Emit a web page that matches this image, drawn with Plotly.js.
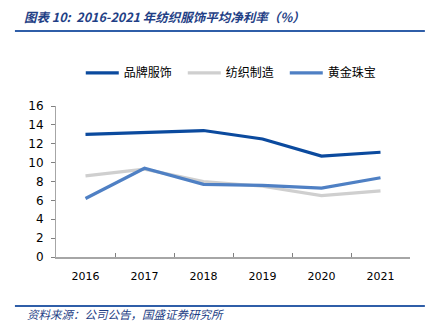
<!DOCTYPE html>
<html><head><meta charset="utf-8">
<script src="https://cdn.plot.ly/plotly-3.0.1.min.js"></script>
<style>html,body{margin:0;padding:0;background:#fff}#c{width:433px;height:334px}</style>
</head><body><div id="c"></div>
<script>
const years = ['2016','2017','2018','2019','2020','2021'];
const brand = [13.0, 13.2, 13.4, 12.5, 10.7, 11.1];
const textile = [8.6, 9.3, 8.0, 7.5, 6.5, 7.0];
const jewelry = [6.2, 9.4, 7.7, 7.6, 7.3, 8.4];
const names = ['品牌服饰','纺织制造','黄金珠宝'];
const colors = ['#0B4A9E','#CFCFCF','#4F80C4'];
const series = [brand, textile, jewelry];

const traces = series.map((s,i)=>({
  x: years, y: s, name: names[i], type:'scatter', mode:'lines',
  line:{color:colors[i], width:3.2}
}));

const cjk = '"Noto Sans CJK SC", "DejaVu Sans", sans-serif';
const layout = {
  width:433, height:334,
  margin:{l:56, r:23, t:106, b:77},
  paper_bgcolor:'#fff', plot_bgcolor:'#fff',
  showlegend:true,
  legend:{orientation:'h', x:0.07, xanchor:'left', y:1.22, yanchor:'middle',
    font:{family:cjk, size:12, color:'#000'}, traceorder:'normal', itemwidth:33,
    entrywidth:54, entrywidthmode:'pixels'},
  xaxis:{type:'category', range:[-0.5,5.5], showgrid:false, showline:true, linecolor:'#A6A6A6', linewidth:2,
    ticks:'inside', tickson:'boundaries', ticklen:4, tickcolor:'#808080', ticklabelstandoff:8,
    tickfont:{family:'DejaVu Sans, sans-serif', size:11, color:'#000'}},
  yaxis:{range:[0,16], dtick:2, showgrid:false, zeroline:false, showline:true,
    linecolor:'#A6A6A6', linewidth:1, ticks:'outside', ticklen:4, tickcolor:'#808080', ticklabelstandoff:5,
    tickfont:{family:'DejaVu Sans, sans-serif', size:12, color:'#000'}},
  shapes:[
    {type:'line', xref:'paper', yref:'paper', x0:-0.116, x1:1.042, y0:1.497, y1:1.497,
     line:{color:'#2F5EA8', width:2}},
    {type:'line', xref:'paper', yref:'paper', x0:-0.116, x1:1.042, y0:-0.325, y1:-0.325,
     line:{color:'#2F5EA8', width:2}}
  ],
  annotations:[
    {text:'<b><i>图表 10:  2016-2021 年纺织服饰平均净利率（%）</i></b>', xref:'paper', yref:'paper',
     x:-0.096, y:1.596, xanchor:'left', yanchor:'middle', showarrow:false,
     font:{family:cjk, size:12.5, color:'#1F3F86'}},
    {text:'<i>资料来源：公司公告，国盛证券研究所</i>', xref:'paper', yref:'paper',
     x:-0.088, y:-0.378, xanchor:'left', yanchor:'middle', showarrow:false,
     font:{family:cjk, size:11.5, color:'#1F3F86'}}
  ]
};
Plotly.newPlot('c', traces, layout, {displayModeBar:false, staticPlot:true});
</script></body></html>
